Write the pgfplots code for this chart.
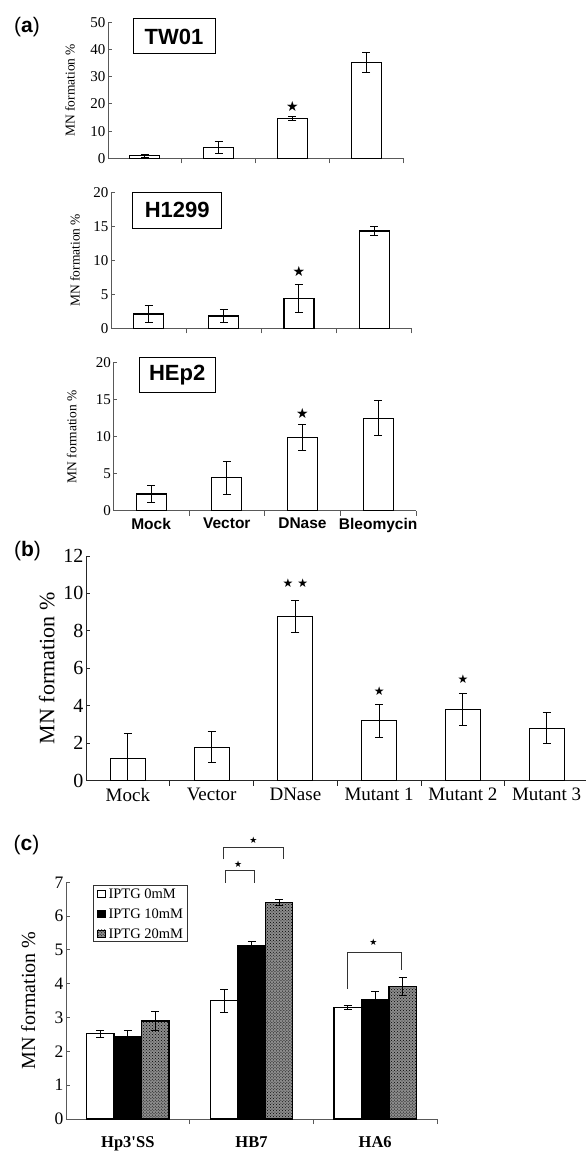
\documentclass[border=0pt]{standalone}
\usepackage{fontspec}
\setmainfont{Liberation Serif}
\newfontfamily\arial{Liberation Sans}
\newfontfamily\dejavu{DejaVu Sans}
\usepackage{pgfplots}
\usepackage{pgfplotstable}
\usetikzlibrary{patterns}
\pgfplotsset{compat=1.18}

\pgfplotstableread{
x y e
0 0.9 0.6
1 4.0 2.1
2 14.5 0.7
3 35.2 3.8
}\tw
\pgfplotstableread{
x y e
0 2.1 1.2
1 1.8 0.95
2 4.4 2.1
3 14.3 0.7
}\hone
\pgfplotstableread{
x y e
0 2.25 1.13
1 4.46 2.2
2 9.9 1.7
3 12.5 2.35
}\hep
\pgfplotstableread{
x y e
0 1.2 1.3
1 1.78 0.83
2 8.76 0.86
3 3.2 0.87
4 3.8 0.85
5 2.8 0.83
}\mut
\pgfplotstableread{
x y e
0 2.52 0.10
1 3.50 0.34
2 3.30 0.07
}\cw
\pgfplotstableread{
x y e
0 2.43 0.19
1 5.12 0.12
2 3.53 0.24
}\cb
\pgfplotstableread{
x y e
0 2.90 0.27
1 6.41 0.09
2 3.92 0.27
}\cg

\pgfplotsset{
  panel/.style={
    scale only axis,
    axis x line*=bottom, axis y line*=left,
    axis line style={black!65, line width=0.9bp},
    tick align=inside,
    major tick length=4bp, minor tick length=5bp,
    every tick/.style={black!65, line width=0.9bp},
    major x tick style={draw=none},
    ymin=0, ybar,
    /pgf/number format/assume math mode=true,
    tick label style={black},
  },
  bars/.style={draw=black, line width=1.2bp,
    error bars/.cd, y dir=both, y explicit,
    error bar style={black, line width=0.9bp},
    error mark options={rotate=90, mark size=4bp, black, line width=0.9bp}},
  apanel/.style={panel,
    xmin=-0.5, xmax=3.5, xtick={0,1,2,3}, minor xtick={0.5,1.5,2.5,3.5},
    bar width=30bp,
    yticklabel style={font=\fontsize{15bp}{17bp}\selectfont, xshift=1bp},
    ylabel={MN formation \%},
    ylabel style={font=\fontsize{13.5bp}{15bp}\selectfont, anchor=center},
  },
}
\tikzset{grayfill/.style={fill=black!45, postaction={pattern=crosshatch dots, pattern color=black}}}
\newcommand{\sq}[1]{\tikz[baseline=-0.5bp]\draw[#1, line width=0.8bp] (0bp,0bp) rectangle (7.6bp,7.6bp);}

\begin{document}
\begin{tikzpicture}
\useasboundingbox (0,0) rectangle (586bp,1157bp);

% ---------- (a) TW01
\begin{axis}[apanel, at={(108bp,998.7bp)}, anchor=south west,
  width=295bp, height=136bp, ymax=50, ytick={0,10,...,50},
  xticklabels={}, ylabel style={at={(axis description cs:-0.129,0.5)}}]
\addplot[fill=white, bar shift=0pt, bars] table[x=x,y=y,y error=e] {\tw};
\node[font=\dejavu\fontsize{14bp}{14bp}\selectfont] at (axis cs:2,19.2) {★};
\end{axis}

% ---------- (a) H1299
\begin{axis}[apanel, at={(111bp,828.7bp)}, anchor=south west,
  width=300.7bp, height=136bp, ymax=20, ytick={0,5,...,20},
  xticklabels={}, ylabel style={at={(axis description cs:-0.12,0.5)}}]
\addplot[fill=white, bar shift=0pt, bars] table[x=x,y=y,y error=e] {\hone};
\node[font=\dejavu\fontsize{14bp}{14bp}\selectfont] at (axis cs:2,8.33) {★};
\end{axis}

% ---------- (a) HEp2
\begin{axis}[apanel, at={(113.3bp,646.3bp)}, anchor=south west,
  width=302.7bp, height=148bp, ymax=20, ytick={0,5,...,20},
  xticklabels={Mock,Vector,DNase,Bleomycin},
  xticklabel style={font=\arial\bfseries\fontsize{15.5bp}{17bp}\selectfont},
  ylabel style={at={(axis description cs:-0.137,0.5)}}]
\addplot[fill=white, bar shift=0pt, bars] table[x=x,y=y,y error=e] {\hep};
\node[font=\dejavu\fontsize{14bp}{14bp}\selectfont] at (axis cs:2,13.2) {★};
\end{axis}

% ---------- (b)
\begin{axis}[panel, at={(86bp,376.3bp)}, anchor=south west,
  width=500bp, height=224.7bp, xmin=-0.5, xmax=5.47, ymax=12, ytick={0,2,...,12},
  xtick={0,...,5}, minor xtick={0.5,1.5,2.5,3.5,4.5},
  xticklabels={Mock,Vector,DNase,Mutant 1,Mutant 2,Mutant 3},
  axis line style={black!85}, every tick/.style={black!85, line width=0.9bp},
  bar width=35bp,
  xticklabel style={font=\fontsize{19bp}{21bp}\selectfont},
  yticklabel style={font=\fontsize{20bp}{22bp}\selectfont, xshift=1bp},
  ylabel={MN formation \%},
  ylabel style={font=\fontsize{22bp}{24bp}\selectfont, anchor=center, at={(axis description cs:-0.0786,0.5)}}]
\addplot[fill=white, bar shift=0pt, bars] table[x=x,y=y,y error=e] {\mut};
\node[font=\dejavu\fontsize{12bp}{12bp}\selectfont] at (axis cs:2,10.57) {★\hspace{4bp}★};
\node[font=\dejavu\fontsize{12bp}{12bp}\selectfont] at (axis cs:3,4.8) {★};
\node[font=\dejavu\fontsize{12bp}{12bp}\selectfont] at (axis cs:4,5.43) {★};
\end{axis}

% ---------- (c)
\begin{axis}[panel, at={(66bp,38bp)}, anchor=south west,
  width=371bp, height=236.7bp, xmin=-0.5, xmax=2.5, ymax=7, ytick={0,...,7},
  xtick={0,1,2}, minor xtick={0.5,1.5,2.5},
  xticklabels={Hp3\textquotesingle SS,HB7,HA6},
  bar width=27.5bp, clip=false,
  xticklabel style={font=\bfseries\fontsize{16.5bp}{18bp}\selectfont, yshift=-10bp},
  yticklabel style={font=\fontsize{17.5bp}{19bp}\selectfont, xshift=1bp},
  ylabel={MN formation \%},
  ylabel style={font=\fontsize{20bp}{21bp}\selectfont, anchor=center, at={(axis description cs:-0.1016,0.5)}},
]
\addplot[fill=white, bar shift=-27.5bp, bars] table[x=x,y=y,y error=e] {\cw};
\addplot[fill=black, bar shift=0bp, bars] table[x=x,y=y,y error=e] {\cb};
\addplot[grayfill, bar shift=27.5bp, bars] table[x=x,y=y,y error=e] {\cg};
\draw[black!80, line width=0.9bp] (axis cs:0.772,7.68) |- (axis cs:1.257,8.03) -- (axis cs:1.257,7.68);
\draw[black!80, line width=0.9bp] (axis cs:0.786,6.99) |- (axis cs:1.023,7.34) -- (axis cs:1.023,6.99);
\draw[black!80, line width=0.9bp] (axis cs:1.778,3.85) |- (axis cs:2.214,4.92) -- (axis cs:2.214,4.41);
\node[font=\dejavu\fontsize{9bp}{9bp}\selectfont] at (axis cs:1.015,8.23) {★};
\node[font=\dejavu\fontsize{9bp}{9bp}\selectfont] at (axis cs:0.893,7.54) {★};
\node[font=\dejavu\fontsize{9bp}{9bp}\selectfont] at (axis cs:1.985,5.22) {★};
\end{axis}

% legend of (c)
\node[draw=black!80, line width=0.8bp, anchor=north west, inner xsep=4bp, inner ysep=3bp,
  align=left, font=\fontsize{14.5bp}{20bp}\selectfont] at (92.7bp,272bp)
  {\sq{fill=white}\hspace{3bp}IPTG 0mM\\
   \sq{fill=black}\hspace{3bp}IPTG 10mM\\
   \sq{grayfill}\hspace{3bp}IPTG 20mM};

% ---------- box labels and panel letters
\node[draw, line width=1bp, inner sep=0pt, minimum width=82bp, minimum height=35bp,
  font=\arial\bfseries\fontsize{22bp}{22bp}\selectfont] at (174bp,1120.5bp) {TW01};
\node[draw, line width=1bp, inner sep=0pt, minimum width=89bp, minimum height=36bp,
  font=\arial\bfseries\fontsize{22bp}{22bp}\selectfont] at (177.2bp,946.7bp) {H1299};
\node[draw, line width=1bp, inner sep=0pt, minimum width=75.7bp, minimum height=35bp,
  font=\arial\bfseries\fontsize{22bp}{22bp}\selectfont] at (177.2bp,781.8bp) {HEp2};
\node[font=\arial\fontsize{21bp}{21bp}\selectfont] at (27bp,1130bp) {(\textbf{a})};
\node[font=\arial\fontsize{21bp}{21bp}\selectfont] at (27.5bp,606bp) {(\textbf{b})};
\node[font=\arial\fontsize{21bp}{21bp}\selectfont] at (26.5bp,311.5bp) {(\textbf{c})};
\end{tikzpicture}
\end{document}
